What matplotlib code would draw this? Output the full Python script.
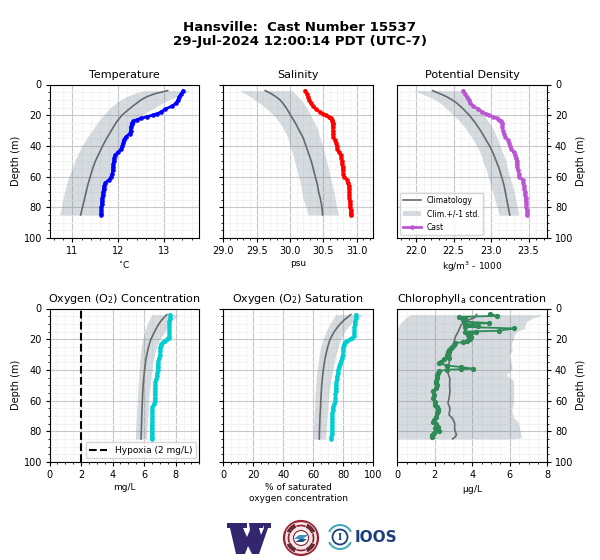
import numpy as np
import matplotlib
matplotlib.use('Agg')
import matplotlib.pyplot as plt
from matplotlib.patches import Circle, Wedge, Polygon
from matplotlib.ticker import AutoMinorLocator, MultipleLocator

plt.rcParams['mathtext.default'] = 'regular'

cast_depth = [4, 6, 8, 10, 12, 14, 16, 18, 19, 20, 21, 22, 23, 24, 25, 26, 28, 30, 32, 34, 36, 38, 40,
              42, 44, 46, 48, 50, 52, 54, 56, 58, 60, 62, 64, 66, 68, 70, 72, 74, 76, 78, 80, 82, 84, 85]
cast_temp = [13.42, 13.38, 13.33, 13.30, 13.27, 13.18, 13.03, 12.93, 12.85, 12.75, 12.62, 12.5, 12.40,
             12.33, 12.30, 12.29, 12.27, 12.27, 12.25, 12.17, 12.12, 12.11, 12.09, 12.07, 12.0, 11.93,
             11.91, 11.90, 11.89, 11.88, 11.88, 11.87, 11.85, 11.80, 11.72, 11.69, 11.68, 11.67, 11.66,
             11.65, 11.64, 11.64, 11.63, 11.63, 11.63, 11.63]
cast_sal = [30.23, 30.25, 30.27, 30.28, 30.31, 30.34, 30.39, 30.45, 30.49, 30.54, 30.58, 30.61, 30.63,
            30.635, 30.64, 30.64, 30.64, 30.645, 30.645, 30.65, 30.67, 30.69, 30.70, 30.71, 30.73, 30.76,
            30.77, 30.78, 30.78, 30.79, 30.79, 30.80, 30.81, 30.86, 30.87, 30.88, 30.885, 30.89, 30.89,
            30.89, 30.895, 30.90, 30.90, 30.91, 30.91, 30.91]
cast_dens = [22.63, 22.65, 22.68, 22.70, 22.72, 22.76, 22.83, 22.88, 22.93, 22.97, 23.03, 23.08, 23.10,
             23.13, 23.15, 23.15, 23.15, 23.16, 23.17, 23.19, 23.22, 23.24, 23.25, 23.27, 23.30, 23.32,
             23.33, 23.34, 23.34, 23.35, 23.36, 23.37, 23.37, 23.42, 23.43, 23.44, 23.44, 23.45, 23.45,
             23.46, 23.46, 23.47, 23.47, 23.48, 23.48, 23.48]
cast_oxy = [7.65, 7.65, 7.6, 7.6, 7.6, 7.6, 7.6, 7.6, 7.55, 7.45, 7.3, 7.2, 7.1, 7.05, 7.03, 7.03, 7.0,
            7.0, 6.95, 6.9, 6.85, 6.85, 6.85, 6.83, 6.8, 6.75, 6.72, 6.7, 6.68, 6.68, 6.67, 6.67, 6.67,
            6.62, 6.52, 6.5, 6.5, 6.5, 6.5, 6.5, 6.47, 6.47, 6.47, 6.47, 6.47, 6.47]
cast_sat = [88.5, 88.3, 88, 87.5, 87.3, 87.3, 87.3, 87, 86, 84.5, 82.5, 81, 80.5, 80.3, 80, 80, 79.8,
            79.5, 79, 78.5, 77.5, 77, 76.5, 76.3, 76, 75.5, 75.3, 75, 74.8, 74.8, 74.7, 74.7, 74.7, 74,
            73, 72.8, 72.6, 72.5, 72.5, 72.4, 72.4, 72.3, 72.3, 72.2, 72, 72]

chl_depth = [3.5, 4.8, 5.5, 6.5, 7.5, 8.5, 9.5, 10.3, 11.5, 12, 13, 14.5, 15.1, 15.6, 16.2, 17.3, 18.4, 19.5,
             19.9, 21.2, 22, 22.3, 23.8, 25, 26, 27, 28.6, 30.3, 32, 32.9, 34.6, 35.7, 37.2, 38.1, 39.2,
             39.6, 39.8, 40.7, 42, 43.5, 45, 47, 48.5, 50, 52, 54, 56.3, 58.5, 60.6, 62.8, 63.9, 65.4,
             66.7, 68.2, 70.4, 72.5, 74, 75.3, 76.9, 78, 79.5, 80.8, 82.3, 83.8]
cast_chl = [4.95, 5.3, 3.3, 3.6, 3.5, 3.55, 4.9, 3.6, 4.3, 3.6, 6.25, 5.4, 3.6, 4.18, 3.91, 3.77, 3.95, 3.82,
            3.9, 3.73, 3.52, 3.1, 3.0, 2.93, 2.84, 2.75, 2.7, 2.67, 2.75, 2.49, 2.31, 2.22, 2.67, 3.38, 4.05,
            3.38, 2.67, 2.22, 2.15, 2.13, 2.1, 2.05, 2.07, 2.1, 2.04, 1.92, 1.95, 1.92, 1.99, 1.99, 2.1, 2.17,
            2.17, 2.1, 2.04, 1.95, 1.92, 2.04, 2.17, 2.0, 2.2, 1.95, 1.87, 1.83]

clim_depth = [4, 6, 8, 10, 12, 15, 20, 25, 30, 35, 40, 45, 50, 55, 60, 65, 70, 75, 80, 85]
temp_mean = [13.08, 12.8, 12.62, 12.5, 12.41, 12.28, 12.08, 11.95, 11.85, 11.75, 11.66, 11.58, 11.5, 11.44, 11.39, 11.34, 11.3, 11.26, 11.22, 11.18]
temp_low = [12.55, 12.33, 12.17, 12.06, 11.95, 11.83, 11.68, 11.54, 11.43, 11.31, 11.21, 11.12, 11.05, 10.99, 10.92, 10.87, 10.83, 10.79, 10.76, 10.72]
temp_high = [13.56, 13.42, 13.27, 13.1, 12.97, 12.8, 12.5, 12.39, 12.25, 12.15, 12.08, 12.02, 11.95, 11.88, 11.83, 11.78, 11.74, 11.71, 11.67, 11.62]
sal_mean = [29.63, 29.72, 29.79, 29.85, 29.89, 29.94, 30.01, 30.08, 30.14, 30.2, 30.24, 30.28, 30.32, 30.35, 30.38, 30.41, 30.43, 30.46, 30.48, 30.49]
sal_low = [29.25, 29.33, 29.41, 29.47, 29.54, 29.63, 29.76, 29.85, 29.92, 29.97, 30.0, 30.04, 30.07, 30.1, 30.13, 30.16, 30.18, 30.2, 30.24, 30.27]
sal_high = [30.03, 30.08, 30.12, 30.17, 30.2, 30.25, 30.31, 30.37, 30.42, 30.45, 30.49, 30.52, 30.55, 30.58, 30.6, 30.63, 30.66, 30.68, 30.7, 30.73]
dens_mean = [22.22, 22.32, 22.41, 22.48, 22.54, 22.61, 22.71, 22.79, 22.86, 22.92, 22.98, 23.03, 23.07, 23.11, 23.14, 23.17, 23.19, 23.21, 23.23, 23.25]
dens_low = [21.97, 22.07, 22.17, 22.26, 22.32, 22.39, 22.5, 22.6, 22.68, 22.75, 22.81, 22.86, 22.89, 22.93, 22.96, 22.99, 23.02, 23.05, 23.08, 23.11]
dens_high = [22.59, 22.63, 22.66, 22.7, 22.74, 22.81, 22.9, 22.98, 23.04, 23.08, 23.12, 23.16, 23.2, 23.22, 23.25, 23.28, 23.31, 23.33, 23.35, 23.37]
oxy_mean = [7.44, 7.25, 7.08, 6.94, 6.82, 6.67, 6.43, 6.28, 6.17, 6.09, 6.03, 5.98, 5.94, 5.91, 5.89, 5.87, 5.85, 5.84, 5.82, 5.81]
oxy_low = [6.5, 6.38, 6.28, 6.2, 6.13, 6.05, 5.92, 5.82, 5.77, 5.72, 5.68, 5.65, 5.62, 5.6, 5.57, 5.55, 5.52, 5.5, 5.47, 5.45]
oxy_high = [8.15, 7.98, 7.8, 7.65, 7.52, 7.33, 7.0, 6.78, 6.66, 6.55, 6.5, 6.43, 6.38, 6.33, 6.3, 6.27, 6.24, 6.21, 6.19, 6.17]
sat_mean = [85, 82.5, 80, 78, 76.3, 74, 71.2, 69.6, 68.4, 67.4, 66.7, 66.1, 65.6, 65.3, 65, 64.8, 64.5, 64.3, 64.1, 64]
sat_low = [75, 73.5, 72.2, 71, 70, 68.5, 66.5, 65, 64, 63.2, 62.6, 62, 61.6, 61.2, 61, 60.8, 60.5, 60.3, 60.1, 60]
sat_high = [93, 90.5, 87.5, 85, 83.2, 81, 78.2, 76.7, 75, 74, 73, 72, 71.2, 70.5, 70, 69.7, 69.3, 69, 68.6, 68.2]

chl_mean_depth = [3.9, 6, 8.2, 10.8, 15, 18.4, 21.6, 26, 32.5, 36.8, 41, 45.5, 50.9, 54.1, 58.5, 61.7, 65, 69.3,
                  71.4, 74.7, 79, 82.3, 84, 84.9]
chl_mean = [4.23, 4.12, 3.65, 3.4, 3.25, 3.1, 3.03, 2.93, 2.8, 2.75, 2.67, 2.8, 2.79, 2.81, 2.76, 2.7, 2.81, 2.76,
            2.93, 3.06, 3.06, 3.16, 3.06, 2.95]
chl_band_depth = [4, 4.8, 6.5, 8.5, 11, 13, 15, 17, 20, 23, 27, 31, 35, 39, 41, 43, 45, 47, 55, 62, 66, 71, 74, 80, 84, 85]
chl_low = [0.68, 0.6, 0.41, 0.25, 0.1, 0, -0.1, -0.3, -0.5, -0.7, -0.9, -1, -1, -1, -1, -1, -1, -1, -1, -1, -1, -1, -1, -1, -1, -1]
chl_high = [7.7, 7.6, 7.17, 6.9, 6.8, 6.8, 6.37, 6.24, 6.2, 6.07, 6.13, 5.95, 6.07, 6.13, 6.0, 5.8, 6.0, 6.2, 6.2, 6.2,
            6.1, 6.2, 6.45, 6.55, 6.63, 6.2]

hypoxia_level = 2

W, H = 600, 560
BAND = '#7a8a9a'
MEAN = '#666a6d'


def px_axes(fig, x0, x1, y0, y1):
    return fig.add_axes([x0 / W, 1 - y1 / H, (x1 - x0) / W, (y1 - y0) / H])


def setup(ax, title, xlabel, xlim, xmajor, right=False, show_y=True):
    ax.set_xlim(*xlim)
    ax.set_ylim(100, 0)
    ax.xaxis.set_major_locator(MultipleLocator(xmajor))
    ax.yaxis.set_major_locator(MultipleLocator(20))
    ax.xaxis.set_minor_locator(AutoMinorLocator())
    ax.yaxis.set_minor_locator(AutoMinorLocator())
    ax.grid(which='major', color='#c8c8c8', lw=0.8)
    ax.grid(which='minor', color='#f3f3f3', lw=0.8)
    ax.set_axisbelow(True)
    ax.tick_params(which='major', labelsize=7, length=3, width=0.8, pad=2.5)
    ax.tick_params(which='minor', length=1.5, width=0.6)
    ax.set_title(title, fontsize=8, pad=4.5)
    ax.set_xlabel(xlabel, fontsize=6.5, labelpad=2.5)
    if right:
        ax.yaxis.tick_right()
        ax.yaxis.set_label_position('right')
    if show_y:
        ax.set_ylabel('Depth (m)', fontsize=7, labelpad=2)
    else:
        ax.tick_params(axis='y', which='both', labelleft=False)


def profile(ax, depth, mean, low, high, cast_x, cast_y, color, band_depth=None, mean_depth=None, lw=2, ms=2.3):
    ax.fill_betweenx(band_depth or depth, low, high, color=BAND, alpha=0.3, lw=0, label='Clim.+/-1 std.', zorder=2)
    ax.plot(mean, mean_depth or depth, color=MEAN, lw=1.2, label='Climatology', zorder=2.5)
    ax.plot(cast_x, cast_y, color=color, lw=lw, marker='o', ms=ms, label='Cast', zorder=3)


fig = plt.figure(figsize=(6, 5.6), dpi=100)

fig.text(0.5, 0.951, 'Hansville:  Cast Number 15537', ha='center', va='center', fontsize=9.6, fontweight='bold')
fig.text(0.5, 0.925, '29-Jul-2024 12:00:14 PDT (UTC-7)', ha='center', va='center', fontsize=9.6, fontweight='bold')

col_x = [(49.5, 199.3), (223.3, 373.3), (397.3, 547.3)]
row_y = [(84.5, 238), (308.5, 462)]

ax = px_axes(fig, *col_x[0], *row_y[0])
setup(ax, 'Temperature', '$^{\\circ}$C', (10.5, 13.77), 1)
profile(ax, clim_depth, temp_mean, temp_low, temp_high, cast_temp, cast_depth, 'blue')

ax = px_axes(fig, *col_x[1], *row_y[0])
setup(ax, 'Salinity', 'psu', (29, 31.25), 0.5, show_y=False)
profile(ax, clim_depth, sal_mean, sal_low, sal_high, cast_sal, cast_depth, 'red')

ax = px_axes(fig, *col_x[2], *row_y[0])
setup(ax, 'Potential Density', 'kg/m$^3$ - 1000', (21.75, 23.75), 0.5, right=True)
profile(ax, clim_depth, dens_mean, dens_low, dens_high, cast_dens, cast_depth, 'mediumorchid')
handles, labels = ax.get_legend_handles_labels()
order = [labels.index(n) for n in ['Climatology', 'Clim.+/-1 std.', 'Cast']]
ax.legend([handles[i] for i in order], [labels[i] for i in order], loc='lower left', fontsize=5.5,
          borderaxespad=0.4, handlelength=2.3, labelspacing=0.6)

ax = px_axes(fig, *col_x[0], *row_y[1])
setup(ax, 'Oxygen (O$_2$) Concentration', 'mg/L', (0, 9.5), 2)
profile(ax, clim_depth, oxy_mean, oxy_low, oxy_high, cast_oxy, cast_depth, 'darkturquoise')
hyp = ax.axvline(hypoxia_level, color='black', ls='--', lw=1.5, zorder=4, label='Hypoxia (2 mg/L)')
ax.legend(handles=[hyp], loc='lower right', fontsize=6.5, borderaxespad=0.4)

ax = px_axes(fig, *col_x[1], *row_y[1])
setup(ax, 'Oxygen (O$_2$) Saturation', '% of saturated\noxygen concentration', (0, 100), 20, show_y=False)
profile(ax, clim_depth, sat_mean, sat_low, sat_high, cast_sat, cast_depth, 'darkturquoise')

ax = px_axes(fig, *col_x[2], *row_y[1])
setup(ax, 'Chlorophyll$_a$ concentration', '$\\mu$g/L', (0, 8), 2, right=True)
profile(ax, clim_depth, chl_mean, chl_low, chl_high, cast_chl, chl_depth, 'seagreen',
        band_depth=chl_band_depth, mean_depth=chl_mean_depth, lw=1.3, ms=2.8)

# logos along the bottom, drawn in pixel space
logo = fig.add_axes([0, 0, 1, 1], facecolor='none')
logo.set_xlim(0, W)
logo.set_ylim(H, 0)
logo.axis('off')

w_outline = [(227, 523), (247, 523), (247, 528), (243, 528), (247, 537), (250, 530), (249, 523),
             (263, 523), (263, 528), (259, 528), (261, 535), (264, 528), (262.5, 523),
             (271, 523), (271, 528), (268, 528), (259, 554), (252, 554), (248, 546), (245, 554), (236, 554),
             (230, 528), (227, 528)]
logo.add_patch(Polygon(w_outline, fc='#33266f', ec='none'))

logo.add_patch(Circle((301, 538), 17, fc='#f3e6e6', ec='#9c2333', lw=1.6))
logo.add_patch(Circle((301, 538), 12.5, fc='none', ec='#8d1f30', lw=1.2))
for ang in [45, 135, 225, 315]:
    logo.add_patch(Wedge((301, 538), 16, ang - 22, ang + 22, width=5, fc='#6b2b35', ec='white', lw=0.4))
logo.add_patch(Circle((301, 538), 7.5, fc='white', ec='#8d1f30', lw=0.8))
logo.add_patch(Polygon([(294, 539), (299, 535), (308, 535), (303, 539)], fc='#3f8fc4', ec='none'))
logo.add_patch(Polygon([(295, 542), (300, 539), (307, 539), (303, 542)], fc='#17548c', ec='none'))

logo.add_patch(Wedge((340, 537), 13, 25, 155, width=2, fc='#3fa7b8', ec='none'))
logo.add_patch(Wedge((340, 537), 13, 205, 335, width=2, fc='#3fa7b8', ec='none'))
logo.add_patch(Circle((340, 537), 7.5, fc='white', ec='#1c3f7c', lw=1.3))
logo.text(340, 537, 'I', ha='center', va='center', fontsize=8, fontweight='bold',
          family='Liberation Serif', color='#1c3f7c')
logo.text(376, 538, 'IOOS', ha='center', va='center', fontsize=11, fontweight='bold',
          family='DejaVu Sans', color='#1c3f7c')

fig.savefig('out.png', dpi=100)
